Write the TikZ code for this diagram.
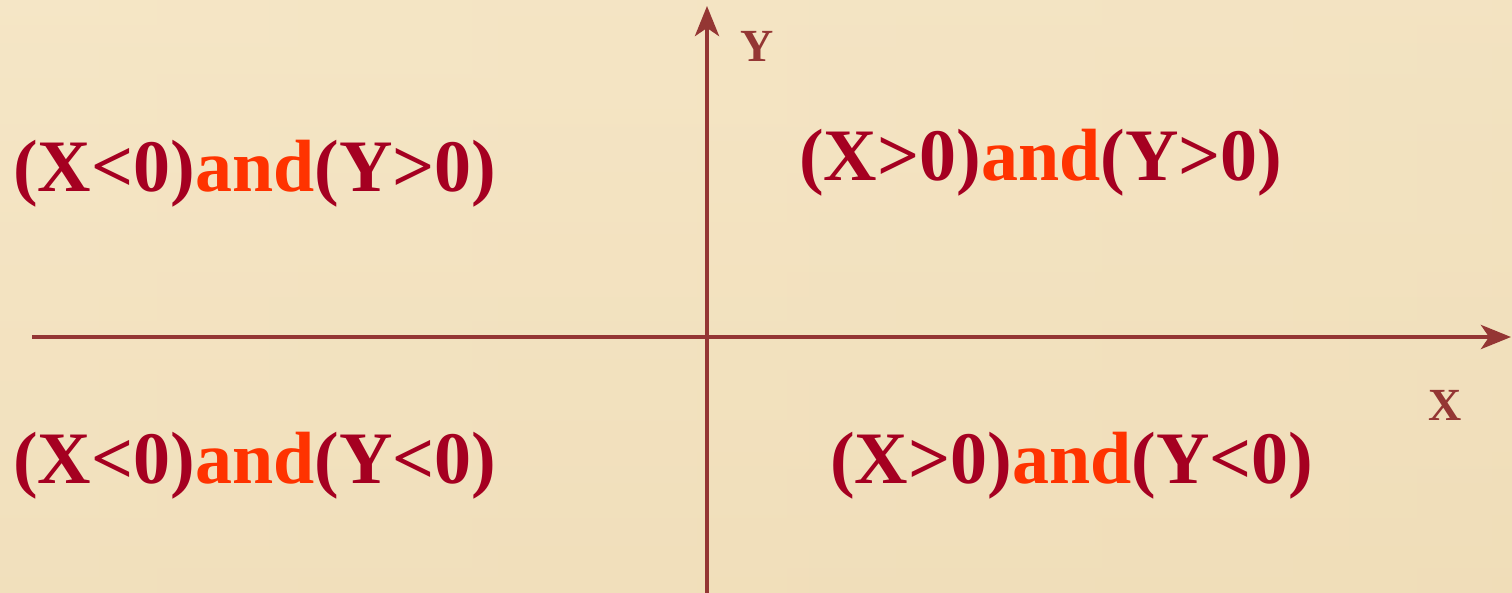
\documentclass[tikz,border=0pt]{standalone}
\usepackage{fontspec}
\setmainfont{Liberation Serif}
\usetikzlibrary{arrows.meta}
\definecolor{paperA}{HTML}{F5E6C6}
\definecolor{paperB}{HTML}{EEDAB3}
\definecolor{axiscol}{HTML}{943634}
\definecolor{txtred}{HTML}{A50021}
\definecolor{andcol}{HTML}{FF3300}
\tikzset{
  axis/.style={draw=axiscol, line width=4.5pt, -{Stealth[length=30pt,width=24pt,inset=8pt]}},
  quadlbl/.style={font=\fontsize{74}{80}\selectfont\bfseries, text=txtred, inner sep=0pt, anchor=base west},
  axlbl/.style={font=\fontsize{46}{50}\selectfont\bfseries, text=axiscol, inner sep=0pt, anchor=base west}
}
\begin{document}
\begin{tikzpicture}[x=1pt,y=-1pt]
\shade[top color=paperA, bottom color=paperB] (0,0) rectangle (1512,592);
\shade[left color=paperA, right color=paperA!60!paperB, opacity=0.5] (0,0) rectangle (1512,592);
\useasboundingbox (0,0) rectangle (1512,592);
\coordinate (xs) at (32,337);
\coordinate (xe) at (1511,337);
\coordinate (ys) at (707,600);
\coordinate (ye) at (707,6);
\draw[axis] (xs) -- (xe);
\draw[axis] (ys) -- (ye);
\node[axlbl] (ylab) at (740,61) {Y};
\node[axlbl] (xlab) at (1428,420) {X};
\node[quadlbl] (tl) at (13,191) {(X<0)\textcolor{andcol}{and}(Y>0)};
\node[quadlbl] (tr) at (799,180) {(X>0)\textcolor{andcol}{and}(Y>0)};
\node[quadlbl] (bl) at (13,483) {(X<0)\textcolor{andcol}{and}(Y<0)};
\node[quadlbl] (br) at (830,483) {(X>0)\textcolor{andcol}{and}(Y<0)};
\end{tikzpicture}
\end{document}
